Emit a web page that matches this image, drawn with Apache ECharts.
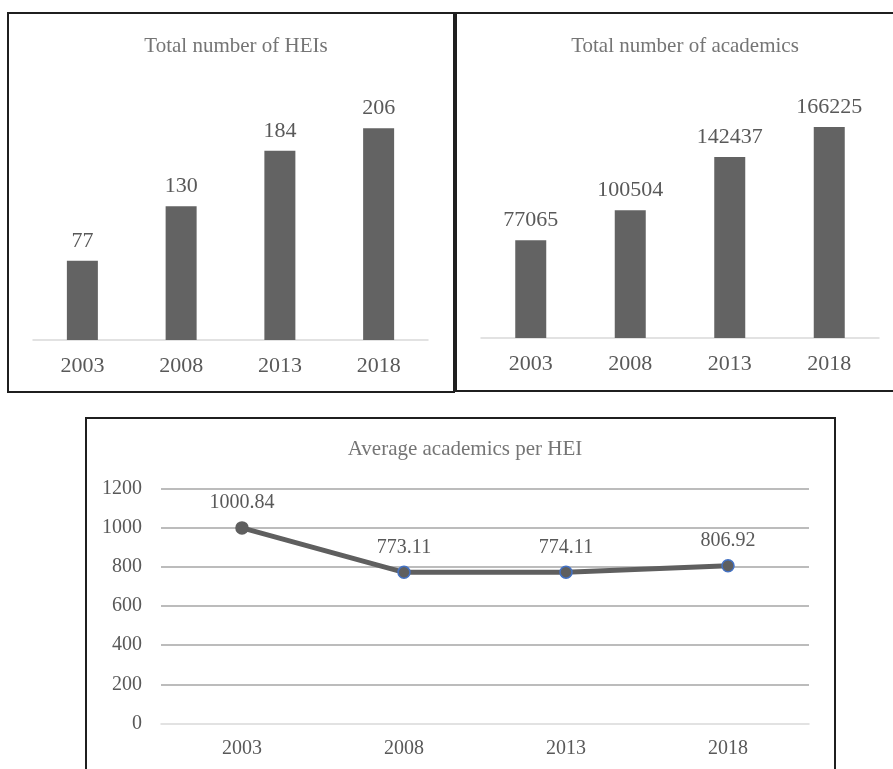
<!DOCTYPE html>
<html>
<head>
<meta charset="utf-8">
<script src="https://cdn.jsdelivr.net/npm/echarts@6/dist/echarts.min.js"></script>
<style>
html,body{margin:0;padding:0;background:#fff;}
#chart{width:893px;height:769px;}
</style>
</head>
<body>
<div id="chart"></div>
<script>
var years = ['2003', '2008', '2013', '2018'];
var heis = [77, 130, 184, 206];
var academics = [77065, 100504, 142437, 166225];
var avgAcademics = [1000.84, 773.11, 774.11, 806.92];
var avgTicks = [0, 200, 400, 600, 800, 1000, 1200];

var FONT = 'Liberation Serif';
var chart = echarts.init(document.getElementById('chart'));

var lineData = avgAcademics.map(function (v, i) {
  return {
    value: v,
    itemStyle: {
      color: '#5f5f5f',
      borderColor: i === 0 ? '#5f5f5f' : '#4472c4',
      borderWidth: 1.5
    }
  };
});

var option = {
  animation: false,
  backgroundColor: '#fff',
  textStyle: { fontFamily: FONT },
  title: [
    { text: 'Total number of HEIs', left: 231, top: 31, textAlign: 'center',
      textStyle: { fontFamily: FONT, fontSize: 21, fontWeight: 'normal', color: '#757575' } },
    { text: 'Total number of academics', left: 680, top: 31, textAlign: 'center',
      textStyle: { fontFamily: FONT, fontSize: 21, fontWeight: 'normal', color: '#757575' } },
    { text: 'Average academics per HEI', left: 460, top: 434, textAlign: 'center',
      textStyle: { fontFamily: FONT, fontSize: 21, fontWeight: 'normal', color: '#757575' } }
  ],
  graphic: [
    { type: 'rect', shape: { x: 8, y: 13, width: 446, height: 379 },
      style: { fill: 'none', stroke: '#1f1f1f', lineWidth: 2 }, z: 100 },
    { type: 'rect', shape: { x: 456, y: 13, width: 450, height: 378 },
      style: { fill: 'none', stroke: '#1f1f1f', lineWidth: 2 }, z: 100 },
    { type: 'rect', shape: { x: 86, y: 418, width: 749, height: 370 },
      style: { fill: 'none', stroke: '#1f1f1f', lineWidth: 2 }, z: 100 }
  ],
  grid: [
    { left: 33, top: 83, width: 395, height: 257 },
    { left: 481, top: 84, width: 398, height: 254 },
    { left: 161, top: 489, width: 648, height: 234.3 }
  ],
  xAxis: [
    { type: 'category', gridIndex: 0, data: years,
      axisLine: { lineStyle: { color: '#d9d9d9', width: 1.5 } },
      axisTick: { show: false },
      axisLabel: { fontFamily: FONT, fontSize: 22, color: '#595959', margin: 15 } },
    { type: 'category', gridIndex: 1, data: years,
      axisLine: { lineStyle: { color: '#d9d9d9', width: 1.5 } },
      axisTick: { show: false },
      axisLabel: { fontFamily: FONT, fontSize: 22, color: '#595959', margin: 15 } },
    { type: 'category', gridIndex: 2, data: years,
      axisLine: { lineStyle: { color: '#d9d9d9', width: 1.5 } },
      axisTick: { show: false },
      axisLabel: { fontFamily: FONT, fontSize: 20, color: '#595959', margin: 15 }, z: 5 }
  ],
  yAxis: [
    { type: 'value', gridIndex: 0, min: 0, max: 250, show: false },
    { type: 'value', gridIndex: 1, min: 0, max: 200000, show: false },
    { type: 'value', gridIndex: 2, min: avgTicks[0], max: avgTicks[avgTicks.length - 1], interval: 200,
      axisLine: { show: false }, axisTick: { show: false },
      axisLabel: { fontFamily: FONT, fontSize: 20, color: '#595959', margin: 19,
        formatter: function (v) { return String(v); } },
      splitLine: { showMinLine: false, lineStyle: { color: '#a6a6a6', width: 1.5 } } }
  ],
  series: [
    { type: 'bar', xAxisIndex: 0, yAxisIndex: 0, data: heis, barWidth: 31,
      itemStyle: { color: '#636363' },
      label: { show: true, position: 'top', distance: 9, fontFamily: FONT, fontSize: 22, color: '#595959' } },
    { type: 'bar', xAxisIndex: 1, yAxisIndex: 1, data: academics, barWidth: 31,
      itemStyle: { color: '#636363' },
      label: { show: true, position: 'top', distance: 9, fontFamily: FONT, fontSize: 22, color: '#595959' } },
    { type: 'line', xAxisIndex: 2, yAxisIndex: 2, data: lineData,
      symbol: 'circle', symbolSize: 12,
      lineStyle: { color: '#5f5f5f', width: 5 },
      label: { show: true, position: 'top', distance: 8, fontFamily: FONT, fontSize: 20, color: '#595959',
        formatter: function (p) { return p.value.toFixed(2); } }, z: 10 }
  ]
};
chart.setOption(option);
</script>
</body>
</html>
